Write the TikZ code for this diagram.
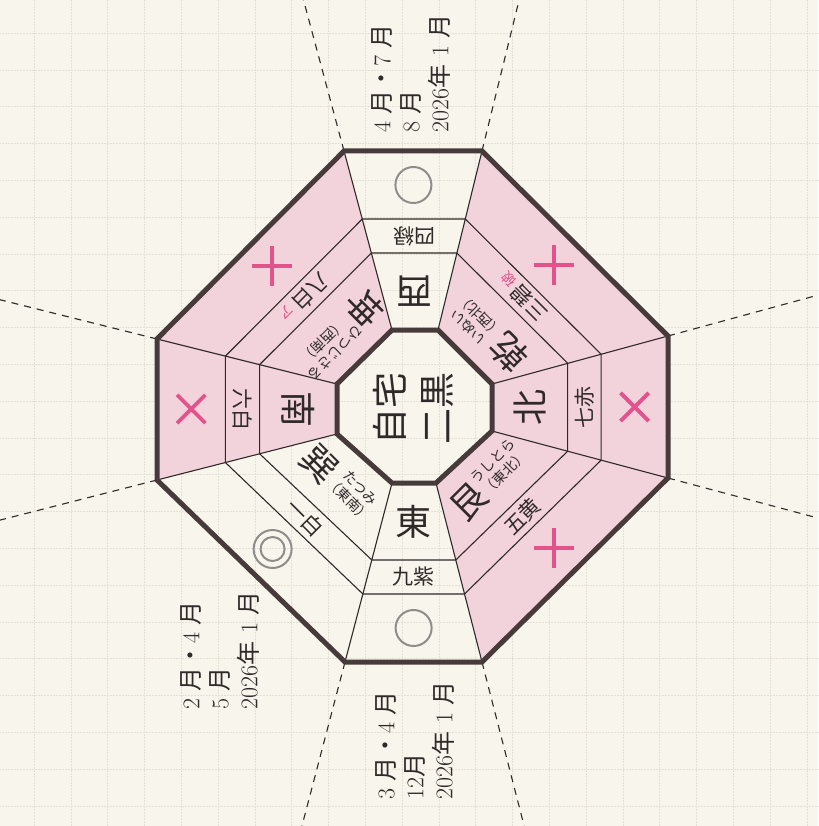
\documentclass[tikz,border=0pt]{standalone}
\usepackage{fontspec}
\newfontfamily\jp{Noto Sans CJK JP}
\usetikzlibrary{calc}
\definecolor{paper}{HTML}{F8F5EC}
\definecolor{gridline}{HTML}{E4E0D6}
\definecolor{rose}{HTML}{F2D3DC}
\definecolor{hot}{HTML}{E2528B}
\definecolor{ink}{HTML}{2F2929}
\definecolor{frame}{HTML}{463A3B}
\definecolor{ring}{HTML}{8F8D8B}
\newcommand{\ja}[1]{{\jp #1}}
\newcommand{\yomi}[2]{\raisebox{11pt}{\fontsize{14}{16}\selectfont
  \begin{tabular}[c]{@{}c@{}}#1\\#2\end{tabular}}}
\newcommand{\aka}[1]{{\fontsize{14}{14}\selectfont\color{hot}#1}}
\tikzset{
  frameline/.style={draw=frame,line width=5pt,line join=miter},
  divider/.style={draw=ink,line width=1.1pt},
  guide/.style={draw=ink,line width=1.1pt,dash pattern=on 7pt off 6pt},
  hougaku/.style={text=ink,inner sep=0pt,font=\jp\fontsize{36}{36}\selectfont},
  hoshi/.style={text=ink,inner sep=0pt,font=\jp\fontsize{21}{21}\selectfont},
  dates/.style={text=ink,inner sep=0pt,rotate=90,anchor=west,align=left,
    font=\fontsize{24}{29}\selectfont},
  ngline/.style={draw=hot,line width=3.8pt},
  ringline/.style={draw=ring,line width=2pt}
}
\begin{document}
\begin{tikzpicture}[x=1pt,y=-1pt]
  \useasboundingbox (0,0) rectangle (818,826);
  \fill[paper] (0,0) rectangle (818,826);
  % faint grid of the paper
  \foreach \g in {0,...,22}{
    \draw[gridline,line width=0.5pt,densely dotted] (34+36.8*\g,0) -- (34+36.8*\g,826);
    \draw[gridline,line width=0.5pt,densely dotted] (0,33+36.8*\g) -- (818,33+36.8*\g);
  }
  % inner and outer octagon corners
  \coordinate (i1) at (392,330);
  \coordinate (i2) at (438,330);
  \coordinate (i3) at (492,384);
  \coordinate (i4) at (492,431);
  \coordinate (i5) at (436,483);
  \coordinate (i6) at (392,483);
  \coordinate (i7) at (337,434);
  \coordinate (i8) at (337,384);
  \coordinate (o1) at (344,151);
  \coordinate (o2) at (482,151);
  \coordinate (o3) at (668,336);
  \coordinate (o4) at (668,478);
  \coordinate (o5) at (482,662);
  \coordinate (o6) at (345,662);
  \coordinate (o7) at (157,480);
  \coordinate (o8) at (157,339);
  \foreach \k in {1,...,8}{
    \coordinate (a\k) at ($(i\k)!0.43!(o\k)$);
    \coordinate (b\k) at ($(i\k)!0.62!(o\k)$);
  }
  % pink sectors
  \fill[rose] (i2)--(o2)--(o3)--(o4)--(o5)--(i5)--(i4)--(i3)--cycle;
  \fill[rose] (i7)--(o7)--(o8)--(o1)--(i1)--(i8)--cycle;
  % bands and spokes
  \draw[divider] (a1)--(a2)--(a3)--(a4)--(a5)--(a6)--(a7)--(a8)--cycle;
  \draw[divider] (b1)--(b2)--(b3)--(b4)--(b5)--(b6)--(b7)--(b8)--cycle;
  \foreach \k in {1,...,8}
    \draw[divider] (i\k)--(o\k);
  \begin{scope}
    \clip (0,0) rectangle (818,826);
    \foreach \k in {1,...,8}
      \draw[guide] (o\k)--($(i\k)!3!(o\k)$);
  \end{scope}
  \draw[frameline] (o1)--(o2)--(o3)--(o4)--(o5)--(o6)--(o7)--(o8)--cycle;
  \draw[frameline] (i1)--(i2)--(i3)--(i4)--(i5)--(i6)--(i7)--(i8)--cycle;

  % good and bad marks
  \draw[ringline] (413.4,185) circle (18);
  \draw[ringline] (413.6,628) circle (18);
  \draw[ringline] (272.6,549) circle (19) (272.6,549) circle (12);
  \draw[ngline,shift={(634.6,407)},rotate=45] (-20,0)--(20,0) (0,-20)--(0,20);
  \draw[ngline,shift={(191.2,409)},rotate=45] (-20,0)--(20,0) (0,-20)--(0,20);
  \draw[ngline,shift={(554.1,265)}] (-20,0)--(20,0) (0,-20)--(0,20);
  \draw[ngline,shift={(553.9,548)}] (-20,0)--(20,0) (0,-20)--(0,20);
  \draw[ngline,shift={(272.1,266)}] (-20,0)--(20,0) (0,-20)--(0,20);

  % directions
  \node[hougaku,rotate=180] (nishi) at (414.6,291.5) {西};
  \node[hougaku,rotate=135] (inui) at (488.7,332.6) {乾\yomi{いぬい}{（西北）}};
  \node[hougaku,rotate=90] (kita) at (529.8,407.4) {北};
  \node[hougaku,rotate=45] (ushitora) at (487.9,481.3) {艮\yomi{うしとら}{（東北）}};
  \node[hougaku] (higashi) at (413.9,521.5) {東};
  \node[hougaku,rotate=-45] (tatsumi) at (340.1,482.7) {巽\yomi{たつみ}{（東南）}};
  \node[hougaku,rotate=-90] (minami) at (298.3,409.1) {南};
  \node[hougaku,rotate=-135] (hitsujisaru) at (340,332.9) {坤\yomi{ひつじさる}{（西南）}};

  % stars
  \node[hoshi,rotate=180] (shiroku) at (414,236) {四緑};
  \node[hoshi,rotate=135] (sanpeki) at (522.8,297.4) {三碧\,\aka{破}};
  \node[hoshi,rotate=90] (shichiseki) at (584.4,407.3) {七赤};
  \node[hoshi,rotate=45] (goou) at (522.3,516.4) {五黄};
  \node[hoshi] (kyushi) at (413.8,577) {九紫};
  \node[hoshi,rotate=-45] (ippaku) at (304.9,517.6) {一白};
  \node[hoshi,rotate=-90] (roppaku) at (242.5,409.3) {六白};
  \node[hoshi,rotate=-135] (happaku) at (304.7,298.2) {八白\,\aka{ア}};

  % centre
  \node[rotate=90,text=ink,inner sep=0pt,align=center,
    font=\jp\fontsize{36}{47}\selectfont] (jitaku) at (413,408) {自宅\\二黒};

  % months
  \node[dates] (top) at (411,133) {4\hspace{0.3em}\ja{月・}7\hspace{0.3em}\ja{月}\\
    8\hspace{0.3em}\ja{月}\\2026\ja{年}\hspace{0.35em}1\hspace{0.3em}\ja{月}};
  \node[dates] (left) at (220,710) {2\hspace{0.3em}\ja{月・}4\hspace{0.3em}\ja{月}\\
    5\hspace{0.3em}\ja{月}\\2026\ja{年}\hspace{0.35em}1\hspace{0.3em}\ja{月}};
  \node[dates] (bottom) at (415,800) {3\hspace{0.3em}\ja{月・}4\hspace{0.3em}\ja{月}\\
    12\ja{月}\\2026\ja{年}\hspace{0.35em}1\hspace{0.3em}\ja{月}};
\end{tikzpicture}
\end{document}
